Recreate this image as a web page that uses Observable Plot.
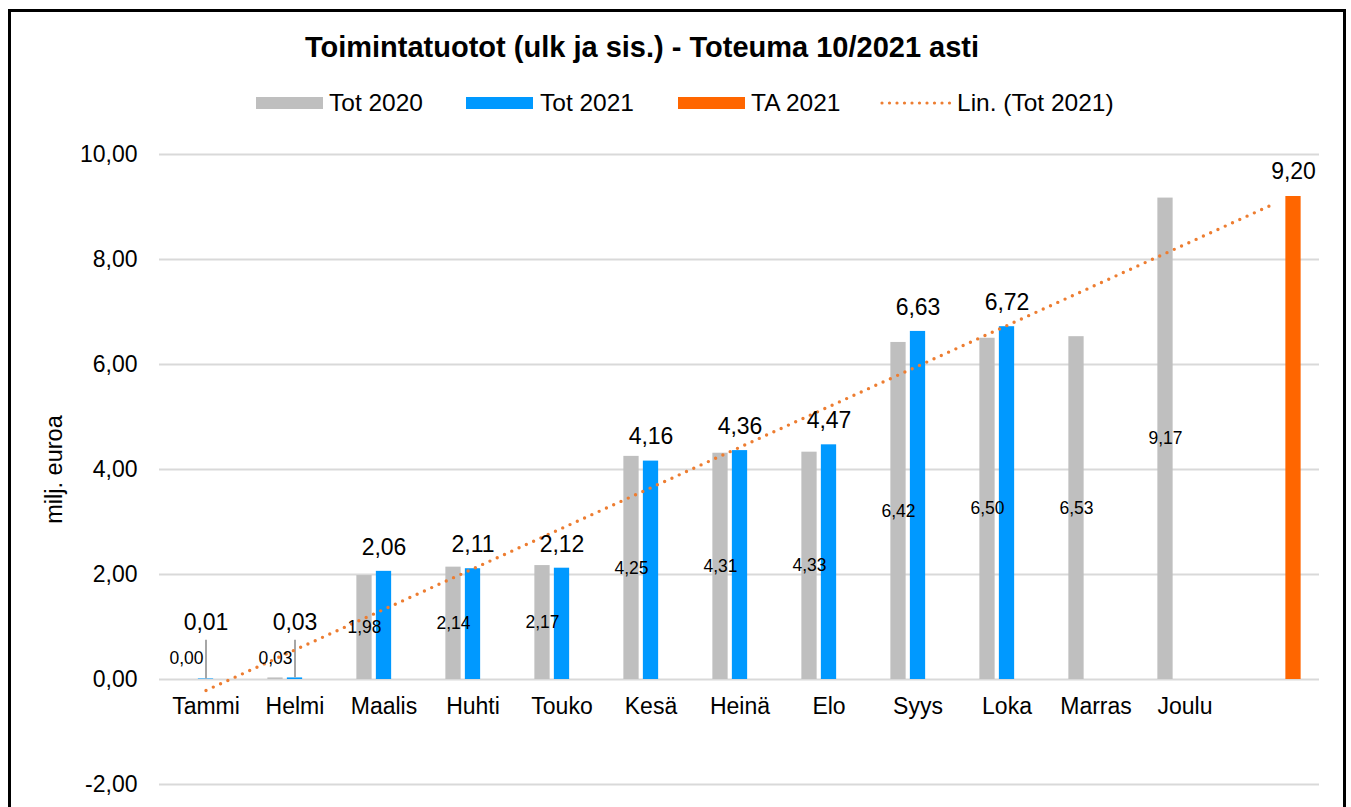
<!DOCTYPE html>
<html>
<head>
<meta charset="utf-8">
<script src="https://cdn.jsdelivr.net/npm/d3@7"></script>
<script src="https://cdn.jsdelivr.net/npm/@observablehq/plot@0.6"></script>
<style>
  html, body { margin: 0; padding: 0; background: #fff; overflow: hidden; }
  body { width: 1351px; height: 807px; position: relative; font-family: "Liberation Sans", Arial, sans-serif; color: #000; }
  #frame { position: absolute; left: 8px; top: 9px; width: 1338px; height: 900px; border: 3px solid #000; box-sizing: border-box; }
  #title { position: absolute; left: 0; width: 1284px; top: 32px; text-align: center; font-weight: bold; font-size: 29px; line-height: 30px; white-space: nowrap; }
  .lg { position: absolute; top: 91px; font-size: 24.5px; line-height: 24px; white-space: nowrap; }
  .sw { position: absolute; top: 97px; width: 67px; height: 12px; }
  #chart { position: absolute; left: 0; top: 120px; }
</style>
</head>
<body>
<div id="frame"></div>
<div id="title">Toimintatuotot (ulk ja sis.) - Toteuma 10/2021 asti</div>
<div id="legend"></div>
<div id="chart"></div>
<script>
// ---- data ----
const months = ["Tammi", "Helmi", "Maalis", "Huhti", "Touko", "Kesä", "Heinä", "Elo", "Syys", "Loka", "Marras", "Joulu"];
const budgetSlot = "";            // 13th (unlabelled) category that holds the TA 2021 bar
const tot2020 = [0.00, 0.03, 1.98, 2.14, 2.17, 4.25, 4.31, 4.33, 6.42, 6.50, 6.53, 9.17];
const tot2021 = [0.01, 0.03, 2.06, 2.11, 2.12, 4.16, 4.36, 4.47, 6.63, 6.72];
const ta2021 = [9.20];
const yTicks = [-2, 0, 2, 4, 6, 8, 10];
const seriesNames = ["Tot 2020", "Tot 2021", "TA 2021", "Lin. (Tot 2021)"];
const colors = { gray: "#BFBFBF", blue: "#0099FF", orange: "#FF6600", trend: "#ED7D31", grid: "#D9D9D9" };

// ---- derived tables ----
const categories = [...months, budgetSlot];
const d2020 = tot2020.map((v, i) => ({ cat: months[i], v }));
const d2021 = tot2021.map((v, i) => ({ cat: months[i], v }));
const dTA = ta2021.map(v => ({ cat: budgetSlot, v }));
const fmt = v => v.toFixed(2).replace(".", ",");

// Linear trendline (least squares) of Tot 2021 over month index, extended across all categories
const xs = tot2021.map((_, i) => i + 1);
const mx = d3.mean(xs), my = d3.mean(tot2021);
const slope = d3.sum(xs, (x, i) => (x - mx) * (tot2021[i] - my)) / d3.sum(xs, x => (x - mx) ** 2);
const icpt = my - slope * mx;
const trend = categories.map((c, i) => ({ cat: c, v: icpt + slope * (i + 1) }));

// labels: tiny values get lifted labels with leader lines
const tiny = 0.5;
const topLabels = d2021.filter(d => d.v >= tiny);
const liftedLabels = d2021.filter(d => d.v < tiny);
const innerLabels = d2020.map(d => ({ ...d, ly: Math.max(d.v / 2, 0.41) }));

// ---- geometry ----
const W = 1351, H = 687;
const mL = 159, mR = 32, mT = 34, mB = 23;
const band = (W - mL - mR) / categories.length;
const barW = 15.5;
const inset = (band - barW) / 2;
const off = 19.5;

const chart = Plot.plot({
  width: W, height: H,
  marginLeft: mL, marginRight: mR, marginTop: mT, marginBottom: mB,
  x: { domain: categories, padding: 0, axis: null },
  y: { domain: [-2, 10], axis: null },
  style: { fontFamily: "'Liberation Sans', Arial, sans-serif", fontSize: "23px", color: "#000", background: "transparent", overflow: "visible" },
  marks: [
    Plot.ruleY(yTicks, { stroke: colors.grid, strokeWidth: 2 }),
    Plot.axisY({ ticks: yTicks, tickFormat: fmt, tickSize: 0, tickPadding: 22, fontSize: 23, label: null }),
    Plot.text(["milj. euroa"], { frameAnchor: "left", textAnchor: "middle", rotate: -90, dx: -105, fontSize: 23.5 }),
    Plot.text(months, { x: d => d, y: 0, dy: 27, fontSize: 23 }),
    Plot.barY(d2020, { x: "cat", y: "v", fill: colors.gray, insetLeft: inset, insetRight: inset, dx: -off }),
    Plot.barY(d2021, { x: "cat", y: "v", fill: colors.blue, insetLeft: inset, insetRight: inset }),
    Plot.barY(dTA, { x: "cat", y: "v", fill: colors.orange, insetLeft: inset, insetRight: inset, dx: off }),
    Plot.ruleX(liftedLabels, { x: "cat", y1: "v", y2: 0.75, stroke: "#A6A6A6", strokeWidth: 2 }),
    Plot.line(trend, { x: "cat", y: "v", stroke: colors.trend, strokeWidth: 3.4, strokeDasharray: "0 8", strokeLinecap: "round" }),
    Plot.text(innerLabels, { x: "cat", y: "ly", text: d => fmt(d.v), dx: -off, fontSize: 17.5 }),
    Plot.text(topLabels, { x: "cat", y: "v", text: d => fmt(d.v), dy: -24, fontSize: 23 }),
    Plot.text(liftedLabels, { x: "cat", y: 1.08, text: d => fmt(d.v), fontSize: 23 }),
    Plot.text(dTA, { x: "cat", y: "v", text: d => fmt(d.v), dx: off, dy: -25, fontSize: 23 })
  ]
});
document.getElementById("chart").appendChild(chart);

// ---- legend ----
const legend = document.getElementById("legend");
const lgItems = [
  { name: seriesNames[0], kind: "rect", color: colors.gray, sx: 256, tx: 329 },
  { name: seriesNames[1], kind: "rect", color: colors.blue, sx: 466, tx: 540 },
  { name: seriesNames[2], kind: "rect", color: colors.orange, sx: 678, tx: 751 },
  { name: seriesNames[3], kind: "dots", color: colors.trend, sx: 882, tx: 957 }
];
lgItems.forEach(it => {
  if (it.kind === "rect") {
    const s = document.createElement("div");
    s.className = "sw"; s.style.left = it.sx + "px"; s.style.background = it.color;
    legend.appendChild(s);
  } else {
    const ns = "http://www.w3.org/2000/svg";
    const svg = document.createElementNS(ns, "svg");
    svg.setAttribute("width", 72); svg.setAttribute("height", 10);
    svg.style.position = "absolute"; svg.style.left = (it.sx - 2) + "px"; svg.style.top = "98px";
    const l = document.createElementNS(ns, "line");
    l.setAttribute("x1", 2); l.setAttribute("x2", 70); l.setAttribute("y1", 5); l.setAttribute("y2", 5);
    l.setAttribute("stroke", it.color); l.setAttribute("stroke-width", 3.2);
    l.setAttribute("stroke-dasharray", "0 7.5"); l.setAttribute("stroke-linecap", "round");
    svg.appendChild(l); legend.appendChild(svg);
  }
  const t = document.createElement("div");
  t.className = "lg"; t.style.left = it.tx + "px"; t.textContent = it.name;
  legend.appendChild(t);
});
</script>
</body>
</html>
